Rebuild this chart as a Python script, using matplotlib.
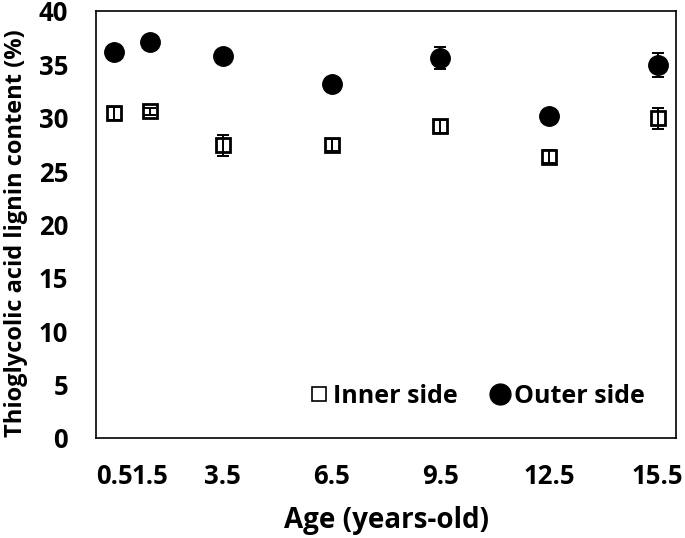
import matplotlib.pyplot as plt
from matplotlib.lines import Line2D

plt.rcParams['font.family'] = ['Open Sans', 'DejaVu Sans']
plt.rcParams['font.weight'] = 'bold'

ages = [0.5, 1.5, 3.5, 6.5, 9.5, 12.5, 15.5]
age_labels = ['0.5', '1.5', '3.5', '6.5', '9.5', '12.5', '15.5']
inner = [30.4, 30.6, 27.4, 27.45, 29.2, 26.35, 29.95]
inner_err = [0.6, 0.3, 0.95, 0.6, 0.6, 0.6, 1.0]
outer = [36.2, 37.1, 35.8, 33.2, 35.6, 30.15, 34.95]
outer_err = [0.4, 0.4, 0.4, 0.3, 1.0, 0.3, 1.1]

fig = plt.figure(figsize=(6.85, 5.38), dpi=100)
ax = fig.add_axes([0.1401, 0.1859, 0.8467, 0.7937])

# markers first, error bars on top so small bars show inside the squares
ax.plot(ages, inner, 's', ms=10.5, mfc='white', mec='black', mew=2.0, zorder=2)
ax.plot(ages, outer, 'o', ms=14, mfc='black', mec='black', zorder=2)
ax.errorbar(ages, inner, yerr=inner_err, fmt='none', ecolor='black',
            elinewidth=1.4, capsize=4.5, capthick=1.4, zorder=3)
ax.errorbar(ages, outer, yerr=outer_err, fmt='none', ecolor='black',
            elinewidth=1.4, capsize=4.5, capthick=1.4, zorder=3)

ax.set_xlim(0, 16)
ax.set_ylim(0, 40)
ax.set_xticks(ages)
ax.set_xticklabels(age_labels)
ax.set_yticks(range(0, 41, 5))
ax.tick_params(length=0, labelsize=18.5)
ax.tick_params(axis='y', pad=20)
ax.tick_params(axis='x', pad=18)
for s in ax.spines.values():
    s.set_linewidth(1.2)

fig.text(386 / 685, 1 - 528 / 538, 'Age (years-old)', fontsize=20, fontweight='bold',
         ha='center', va='baseline')
fig.text(16 / 685, 1 - 233 / 538, 'Thioglycolic acid lignin content (%)', fontsize=17,
         fontweight='bold', ha='center', va='center', rotation=90)

handles = [
    Line2D([], [], ls='none', marker='s', ms=10.5, mfc='white', mec='black', mew=1.2),
    Line2D([], [], ls='none', marker='o', ms=15, mfc='black', mec='black'),
]
ax.legend(handles, ['Inner side', 'Outer side'], loc='center right', frameon=False,
          fontsize=18, ncol=2, handletextpad=0.15, columnspacing=1.3, handlelength=0.8,
          borderpad=0, borderaxespad=0, bbox_to_anchor=(0.9466, 0.098))

fig.savefig('out.png')
